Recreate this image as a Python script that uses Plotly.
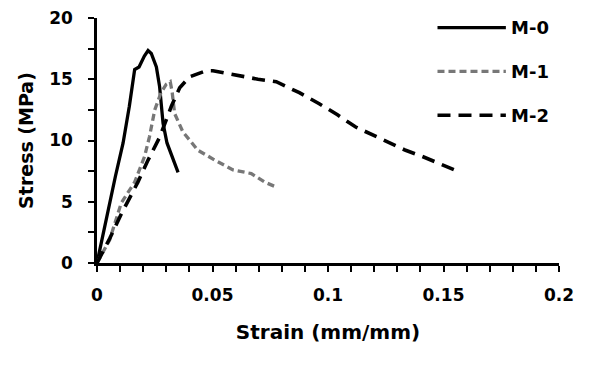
import plotly.graph_objects as go

# M-0 (solid black)
m0_strain = [0.0, 0.0040, 0.0080, 0.0113, 0.0140, 0.0163, 0.0182, 0.0205, 0.0221, 0.0235, 0.0257, 0.0271, 0.0286, 0.0303, 0.0329, 0.0351]
m0_stress = [0.0, 3.6, 7.1, 9.8, 12.8, 15.8, 16.0, 16.9, 17.35, 17.1, 16.0, 14.4, 11.4, 9.8, 8.4, 7.4]

# M-1 (grey short dash)
m1_strain = [0.0, 0.0055, 0.0105, 0.0163, 0.0206, 0.0227, 0.0250, 0.0277, 0.0300, 0.0317, 0.0325, 0.0336, 0.0372, 0.0437, 0.0510, 0.0589, 0.0668, 0.0726, 0.0776]
m1_stress = [0.0, 1.9, 4.9, 6.6, 8.7, 10.3, 12.5, 13.9, 14.6, 14.8, 14.0, 12.2, 10.7, 9.2, 8.4, 7.6, 7.3, 6.6, 6.2]

# M-2 (black long dash)
m2_strain = [0.0, 0.0055, 0.0105, 0.0177, 0.0221, 0.0272, 0.0322, 0.0358, 0.0401, 0.0473, 0.0502, 0.0582, 0.0697, 0.0776, 0.0876, 0.0962, 0.1041, 0.1120, 0.1192, 0.1264, 0.1336, 0.1408, 0.1480, 0.1567]
m2_stress = [0.0, 2.0, 4.0, 6.6, 8.4, 10.3, 12.8, 14.3, 15.2, 15.7, 15.7, 15.4, 15.0, 14.8, 13.9, 13.0, 12.1, 11.1, 10.45, 9.8, 9.2, 8.7, 8.1, 7.45]

x_ticks = [0, 0.05, 0.1, 0.15, 0.2]
x_tick_labels = ["0", "0.05", "0.1", "0.15", "0.2"]
y_ticks = [0, 5, 10, 15, 20]
y_tick_labels = ["0", "5", "10", "15", "20"]

series_names = ["M-0", "M-1", "M-2"]
styles = [
    dict(color="#000000", width=3.3, dash="solid"),
    dict(color="#777777", width=3.3, dash="7px,4px"),
    dict(color="#000000", width=3.6, dash="13px,8px"),
]

FONT = "DejaVu Sans, sans-serif"

fig = go.Figure()
for name, xs, ys, st in zip(series_names,
                            [m0_strain, m1_strain, m2_strain],
                            [m0_stress, m1_stress, m2_stress], styles):
    fig.add_trace(go.Scatter(x=xs, y=ys, mode="lines", name=name,
                             line=dict(color=st["color"], width=st["width"], dash=st["dash"]),
                             showlegend=False))

# Legend drawn manually (long Excel-style sample lines)
leg_y = [0.961, 0.782, 0.603]
for name, st, yy in zip(series_names, styles, leg_y):
    fig.add_shape(type="line", xref="paper", yref="paper",
                  x0=0.737, x1=0.885, y0=yy, y1=yy,
                  line=dict(color=st["color"], width=st["width"], dash=st["dash"]))
    fig.add_annotation(x=0.891, y=yy, xref="paper", yref="paper", text="<b>%s</b>" % name,
                       showarrow=False, xanchor="left", yanchor="middle",
                       font=dict(family=FONT, size=18, color="#000000"))

axis_common = dict(
    showgrid=False, zeroline=False, showline=True, linecolor="#000000", linewidth=2.5,
    ticks="outside", ticklen=6, tickwidth=2, tickcolor="#000000",
    tickfont=dict(family=FONT, size=17, color="#000000"),
    automargin=False, ticklabeloverflow="allow",
)

fig.update_layout(
    width=593, height=358,
    margin=dict(l=89, r=42, t=10, b=103),
    paper_bgcolor="white", plot_bgcolor="white",
    xaxis=dict(range=[0, 0.2], tickvals=x_ticks, ticktext=["<b>%s</b>" % t for t in x_tick_labels],
               minor=dict(dtick=0.01, ticks="outside", ticklen=6, tickwidth=2, tickcolor="#000000"),
               ticklabelstandoff=9,
               title=dict(text="<b>Strain (mm/mm)</b>", font=dict(family=FONT, size=20, color="#000000"), standoff=21),
               **axis_common),
    yaxis=dict(range=[0, 20], tickvals=y_ticks, ticktext=["<b>%s</b>" % t for t in y_tick_labels],
               minor=dict(dtick=2.5, ticks="outside", ticklen=6, tickwidth=2, tickcolor="#000000"),
               ticklabelstandoff=12,
               title=dict(text="<b>Stress (MPa)</b>", font=dict(family=FONT, size=19, color="#000000"), standoff=11),
               **axis_common),
)

fig.write_html("out.html")
